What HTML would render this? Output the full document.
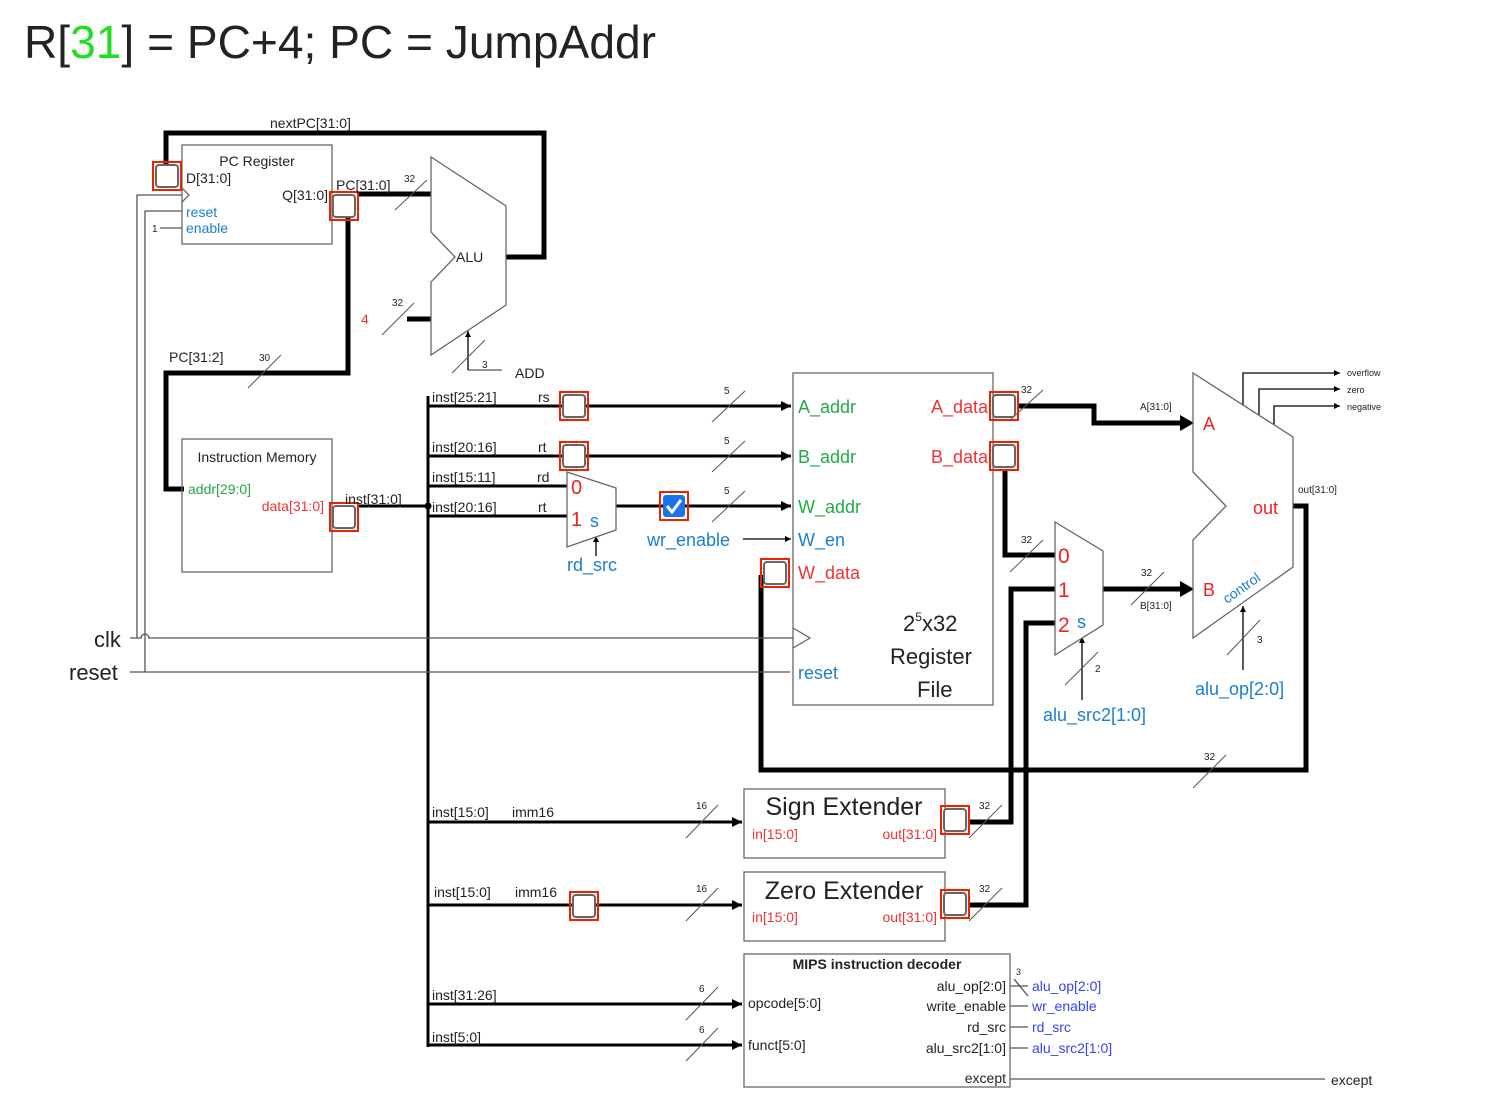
<!DOCTYPE html>
<html><head><meta charset="utf-8"><style>
html,body{margin:0;padding:0;background:#fff;}
svg{display:block;}
text{font-family:"Liberation Sans",sans-serif;}
</style></head><body>
<svg width="1500" height="1120" viewBox="0 0 1500 1120" xmlns="http://www.w3.org/2000/svg">
<defs>
<marker id="ah" viewBox="0 0 10 10" refX="10" refY="5" markerWidth="6" markerHeight="6" orient="auto" markerUnits="userSpaceOnUse"><path d="M0,0L10,5L0,10z" fill="#000"/></marker>
<marker id="ahm" viewBox="0 0 10 10" refX="10" refY="5" markerWidth="10" markerHeight="10" orient="auto" markerUnits="userSpaceOnUse"><path d="M0,0L10,5L0,10z" fill="#000"/></marker>
</defs>
<text x="24" y="58" font-size="46" fill="#222" textLength="632" lengthAdjust="spacingAndGlyphs">R[<tspan fill="#22dd22">31</tspan>] = PC+4; PC = JumpAddr</text>

<g fill="none" stroke="#000">
<g stroke-width="5">
<polyline points="166,176 166,133 544,133 544,257 506,257"/>
<line x1="358" y1="194" x2="432" y2="194"/>
<line x1="407" y1="319" x2="432" y2="319"/>
<polyline points="348,206 348,373 166,373 166,489 184,489"/>
<polyline points="1018,406 1094,406 1094,423 1180,423"/>
<polyline points="1005,470 1005,555 1055,555"/>
<polyline points="761,575 761,770 1306,770 1306,506 1293,506"/>
<polyline points="968,822 1011,822 1011,589 1055,589"/>
<polyline points="968,905 1026,905 1026,623 1055,623"/>
<line x1="1103" y1="589" x2="1180" y2="589"/>
</g>
<path d="M1180,415 L1194,423 L1180,431z" fill="#000" stroke="none"/>
<path d="M1180,581 L1194,589 L1180,597z" fill="#000" stroke="none"/>
<g stroke-width="3">
<line x1="358" y1="506" x2="428" y2="506"/>
<line x1="428" y1="396" x2="428" y2="1047"/>
<line x1="428" y1="406" x2="791" y2="406" marker-end="url(#ahm)"/>
<line x1="428" y1="456" x2="791" y2="456" marker-end="url(#ahm)"/>
<line x1="428" y1="486" x2="567" y2="486"/>
<line x1="428" y1="516" x2="567" y2="516"/>
<line x1="616" y1="506" x2="791" y2="506" marker-end="url(#ahm)"/>
<line x1="428" y1="822" x2="742" y2="822" marker-end="url(#ahm)"/>
<line x1="428" y1="905" x2="742" y2="905" marker-end="url(#ahm)"/>
<line x1="428" y1="1004" x2="742" y2="1004" marker-end="url(#ahm)"/>
<line x1="428" y1="1045" x2="742" y2="1045" marker-end="url(#ahm)"/>
</g>
<circle cx="428" cy="506" r="3" fill="#000"/>
<g stroke-width="1.3" stroke="#555">
<path d="M130,638 L141,638 A4,4 0 0 1 149,638 L793,638"/>
<polyline points="130,672 790,672"/>
<polyline points="137,638 137,195 182,195"/>
<polyline points="145,672 145,211 182,211"/>
<line x1="160" y1="228" x2="182" y2="228"/>
<polyline points="468,370 502,370"/>
<line x1="743" y1="539" x2="791" y2="539" stroke="#000" marker-end="url(#ah)"/>
<line x1="468" y1="370" x2="468" y2="331" stroke="#000" marker-end="url(#ah)"/>
<line x1="596" y1="556" x2="596" y2="536" stroke="#000" marker-end="url(#ah)"/>
<line x1="1082" y1="700" x2="1082" y2="637" stroke="#000" marker-end="url(#ah)"/>
<line x1="1243" y1="670" x2="1243" y2="606" stroke="#000" marker-end="url(#ah)"/>
<polyline points="1243,405 1243,373 1340,373" stroke="#000" marker-end="url(#ah)"/>
<polyline points="1259,415 1259,389 1340,389" stroke="#000" marker-end="url(#ah)"/>
<polyline points="1274,425 1274,406 1340,406" stroke="#000" marker-end="url(#ah)"/>
<line x1="1010" y1="986" x2="1028" y2="986"/>
<line x1="1010" y1="1006" x2="1028" y2="1006"/>
<line x1="1010" y1="1027" x2="1028" y2="1027"/>
<line x1="1010" y1="1048" x2="1028" y2="1048"/>
<line x1="1010" y1="1079" x2="1325" y2="1079"/>
<line x1="1014" y1="979" x2="1028" y2="996"/>
</g>
<g stroke="#555" stroke-width="1">
<line x1="395" y1="210" x2="427" y2="180"/>
<line x1="382" y1="335" x2="414" y2="303"/>
<line x1="248" y1="388" x2="281" y2="355"/>
<line x1="452" y1="373" x2="485" y2="340"/>
<line x1="712" y1="422" x2="745" y2="391"/>
<line x1="712" y1="472" x2="745" y2="441"/>
<line x1="712" y1="522" x2="745" y2="491"/>
<line x1="1010" y1="420" x2="1043" y2="390"/>
<line x1="1010" y1="572" x2="1043" y2="540"/>
<line x1="1131" y1="605" x2="1164" y2="572"/>
<line x1="1065" y1="685" x2="1098" y2="652"/>
<line x1="1227" y1="655" x2="1260" y2="620"/>
<line x1="1193" y1="788" x2="1226" y2="755"/>
<line x1="686" y1="838" x2="718" y2="805"/>
<line x1="686" y1="921" x2="718" y2="888"/>
<line x1="686" y1="1020" x2="718" y2="987"/>
<line x1="686" y1="1061" x2="718" y2="1028"/>
<line x1="969" y1="838" x2="1002" y2="805"/>
<line x1="969" y1="921" x2="1002" y2="888"/>
</g>
<g stroke="#666" stroke-width="1.3">
<rect x="182" y="145" width="150" height="99"/>
<rect x="182" y="439" width="150" height="133"/>
<rect x="793" y="373" width="200" height="332"/>
<rect x="744" y="789" width="201" height="69"/>
<rect x="744" y="872" width="201" height="69"/>
<rect x="744" y="954" width="266" height="133"/>
<polygon points="431,157 506,206 506,305 431,355 431,282 455,257 431,232" fill="#fff"/>
<polygon points="567,472 616,488 616,530 567,547" fill="#fff"/>
<polygon points="1055,522 1103,551 1103,625 1055,655" fill="#fff"/>
<polygon points="1193,373 1293,437 1293,567 1193,638 1193,540 1226,506 1193,472" fill="#fff"/>
<polyline points="182,188 189,195 182,202"/>
<polyline points="793,628 810,638 793,648"/>
</g>
</g>

<g>
<g id="cb"><rect x="153" y="162" width="28" height="28" fill="none" stroke="#ee2200" stroke-width="2"/><rect x="156" y="165" width="22" height="22" rx="3" fill="#fff" stroke="#666" stroke-width="2"/></g>
<use href="#cb" x="177" y="30"/>
<use href="#cb" x="177" y="341"/>
<use href="#cb" x="407" y="230"/>
<use href="#cb" x="407" y="280"/>
<use href="#cb" x="608" y="397"/>
<use href="#cb" x="837" y="230"/>
<use href="#cb" x="837" y="280"/>
<use href="#cb" x="788" y="644"/>
<use href="#cb" x="788" y="728"/>
<use href="#cb" x="417" y="730"/>
<rect x="660" y="492" width="28" height="28" fill="none" stroke="#ee2200" stroke-width="2"/>
<rect x="663" y="495" width="22" height="22" rx="3" fill="#1a73e8"/>
<polyline points="667,506 672,512 681,500" fill="none" stroke="#fff" stroke-width="3"/>
</g>

<g font-size="14" fill="#222">
<text x="270" y="128">nextPC[31:0]</text>
<text x="257" y="166" text-anchor="middle">PC Register</text>
<text x="186" y="183">D[31:0]</text>
<text x="328" y="200" text-anchor="end">Q[31:0]</text>
<text x="186" y="217" fill="#1a7fd0">reset</text>
<text x="186" y="233" fill="#1a7fd0">enable</text>
<text x="152" y="232" font-size="10">1</text>
<text x="336" y="190">PC[31:0]</text>
<text x="404" y="182" font-size="10">32</text>
<text x="392" y="306" font-size="10">32</text>
<text x="456" y="262">ALU</text>
<text x="361" y="324" fill="#ee3333">4</text>
<text x="482" y="368" font-size="10">3</text>
<text x="515" y="378">ADD</text>
<text x="169" y="362">PC[31:2]</text>
<text x="259" y="361" font-size="10">30</text>
<text x="257" y="462" text-anchor="middle">Instruction Memory</text>
<text x="188" y="494" fill="#22aa44">addr[29:0]</text>
<text x="324" y="511" text-anchor="end" fill="#ee3333">data[31:0]</text>
<text x="345" y="504">inst[31:0]</text>
<text x="432" y="402">inst[25:21]</text><text x="538" y="402">rs</text>
<text x="432" y="452">inst[20:16]</text><text x="538" y="452">rt</text>
<text x="432" y="482">inst[15:11]</text><text x="537" y="482">rd</text>
<text x="432" y="512">inst[20:16]</text><text x="538" y="512">rt</text>
<text x="724" y="394" font-size="10">5</text>
<text x="724" y="444" font-size="10">5</text>
<text x="724" y="494" font-size="10">5</text>
<text x="94" y="647" font-size="22">clk</text>
<text x="69" y="680" font-size="22">reset</text>
<text x="432" y="817">inst[15:0]</text><text x="512" y="817">imm16</text>
<text x="434" y="897">inst[15:0]</text><text x="515" y="897">imm16</text>
<text x="432" y="1000">inst[31:26]</text>
<text x="432" y="1042">inst[5:0]</text>
<text x="696" y="809" font-size="10">16</text>
<text x="696" y="892" font-size="10">16</text>
<text x="699" y="992" font-size="10">6</text>
<text x="699" y="1033" font-size="10">6</text>
<text x="979" y="809" font-size="10">32</text>
<text x="979" y="892" font-size="10">32</text>
<text x="1021" y="393" font-size="10">32</text>
<text x="1021" y="543" font-size="10">32</text>
<text x="1141" y="576" font-size="10">32</text>
<text x="1140" y="410" font-size="10">A[31:0]</text>
<text x="1140" y="609" font-size="10">B[31:0]</text>
<text x="1298" y="493" font-size="10">out[31:0]</text>
<text x="1347" y="376" font-size="9">overflow</text>
<text x="1347" y="393" font-size="9">zero</text>
<text x="1347" y="410" font-size="9">negative</text>
<text x="1095" y="672" font-size="10">2</text>
<text x="1257" y="643" font-size="10">3</text>
<text x="1204" y="760" font-size="10">32</text>
<text x="1016" y="975" font-size="9">3</text>
</g>
<g font-size="18">
<text x="571" y="494" fill="#ee2222" font-size="20">0</text>
<text x="571" y="526" fill="#ee2222" font-size="20">1</text>
<text x="590" y="527" fill="#1a7fd0">s</text>
<text x="567" y="571" fill="#1a7fd0">rd_src</text>
<text x="647" y="546" fill="#1a7fd0">wr_enable</text>
<text x="798" y="413" fill="#22aa44">A_addr</text>
<text x="798" y="463" fill="#22aa44">B_addr</text>
<text x="798" y="513" fill="#22aa44">W_addr</text>
<text x="798" y="546" fill="#1a7fd0">W_en</text>
<text x="798" y="579" fill="#ee3333">W_data</text>
<text x="798" y="679" fill="#1a7fd0">reset</text>
<text x="988" y="413" text-anchor="end" fill="#ee3333">A_data</text>
<text x="988" y="463" text-anchor="end" fill="#ee3333">B_data</text>
<text x="903" y="631" font-size="22" fill="#222">2<tspan font-size="12" dy="-10">5</tspan><tspan dy="10">x32</tspan></text>
<text x="890" y="664" font-size="22" fill="#222">Register</text>
<text x="917" y="697" font-size="22" fill="#222">File</text>
<text x="1058" y="563" fill="#ee2222" font-size="21">0</text>
<text x="1058" y="597" fill="#ee2222" font-size="21">1</text>
<text x="1058" y="632" fill="#ee2222" font-size="21">2</text>
<text x="1077" y="628" fill="#1a7fd0">s</text>
<text x="1043" y="721" fill="#1a7fd0">alu_src2[1:0]</text>
<text x="1203" y="430" fill="#ee2222">A</text>
<text x="1203" y="596" fill="#ee2222">B</text>
<text x="1253" y="514" fill="#ee2222">out</text>
<text x="1227" y="604" fill="#1a7fd0" font-size="14" transform="rotate(-35 1227 604)">control</text>
<text x="1195" y="695" fill="#1a7fd0">alu_op[2:0]</text>
<text x="844" y="815" font-size="25" text-anchor="middle" fill="#222">Sign Extender</text>
<text x="844" y="899" font-size="25" text-anchor="middle" fill="#222">Zero Extender</text>
</g>
<g font-size="14">
<text x="752" y="839" fill="#ee3333">in[15:0]</text>
<text x="937" y="839" text-anchor="end" fill="#ee3333">out[31:0]</text>
<text x="752" y="922" fill="#ee3333">in[15:0]</text>
<text x="937" y="922" text-anchor="end" fill="#ee3333">out[31:0]</text>
<text x="877" y="969" text-anchor="middle" font-weight="bold" fill="#222">MIPS instruction decoder</text>
<text x="748" y="1008" fill="#222">opcode[5:0]</text>
<text x="748" y="1050" fill="#222">funct[5:0]</text>
<g text-anchor="end" fill="#222">
<text x="1006" y="991">alu_op[2:0]</text>
<text x="1006" y="1011">write_enable</text>
<text x="1006" y="1032">rd_src</text>
<text x="1006" y="1053">alu_src2[1:0]</text>
<text x="1006" y="1083">except</text>
</g>
<g fill="#3344ee">
<text x="1032" y="991">alu_op[2:0]</text>
<text x="1032" y="1011">wr_enable</text>
<text x="1032" y="1032">rd_src</text>
<text x="1032" y="1053">alu_src2[1:0]</text>
</g>
<text x="1331" y="1085" fill="#222">except</text>
</g>
</svg>
</body></html>
